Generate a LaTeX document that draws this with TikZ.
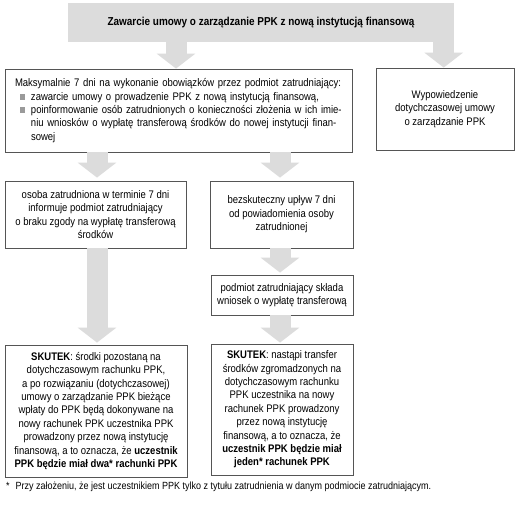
\documentclass[tikz,border=0pt]{standalone}
\usepackage{fontspec}
\setmainfont{Liberation Sans}[FakeStretch=0.865]
\usetikzlibrary{arrows.meta}
\definecolor{arrowgray}{HTML}{DCDCDC}
\definecolor{boxline}{HTML}{555555}
\definecolor{bulgray}{HTML}{9A9A9A}
\newcommand\mybul{\makebox[16pt][l]{\hspace{5pt}\textcolor{bulgray}{\rule[0.5pt]{5.5pt}{5.5pt}}}}
\newcommand\myind{\hspace*{16pt}}
\begin{document}
\begin{tikzpicture}[x=1pt,y=-1pt,font=\fontsize{11}{13.4}\selectfont,
  box/.style={draw=boxline,line width=0.8pt,inner sep=0pt,align=center,fill=white},
  blockarrow/.style={draw=arrowgray,line width=21pt,-{Triangle[length=15pt,width=38pt]}}]
\useasboundingbox (0,0) rectangle (519,505);
\fill[white] (0,0) rectangle (519,505);
% banner
\node[fill=arrowgray,minimum width=386pt,minimum height=39pt,inner sep=0pt,
  font=\bfseries\fontsize{11.5}{13}\selectfont] (banner) at (261,22.5)
  {Zawarcie umowy o zarządzanie PPK z nową instytucją finansową};
% boxes
\node[box,minimum width=347pt,minimum height=83pt,text width=327pt,align=left] (b1) at (178.5,110.5)
 {Maksymalnie 7 dni na wykonanie obowiązków przez podmiot zatrudniający:\\
  \mybul zawarcie umowy o prowadzenie PPK z nową instytucją finansową,\\
  \mybul poinformowanie osób zatrudnionych o konieczności złożenia w ich imie-\\
  \myind niu wniosków o wypłatę transferową środków do nowej instytucji finan-\\
  \myind sowej};
\node[box,minimum width=138pt,minimum height=82pt] (b2) at (445,109)
 {Wypowiedzenie\\dotychczasowej umowy\\o zarządzanie PPK};
\node[box,minimum width=181pt,minimum height=67pt] (b3) at (95.5,214.5)
 {osoba zatrudniona w terminie 7 dni\\informuje podmiot zatrudniający\\o braku zgody na wypłatę transferową\\środków};
\node[box,minimum width=143pt,minimum height=67pt] (b4) at (281.5,214.5)
 {bezskuteczny upływ 7 dni\\od powiadomienia osoby\\zatrudnionej};
\node[box,minimum width=142pt,minimum height=40pt] (b5) at (282,295)
 {podmiot zatrudniający składa\\wniosek o wypłatę transferową};
\node[box,minimum width=182pt,minimum height=132pt] (b6) at (96,411)
 {\textbf{SKUTEK}: środki pozostaną na\\dotychczasowym rachunku PPK,\\a po rozwiązaniu (dotychczasowej)\\umowy o zarządzanie PPK bieżące\\wpłaty do PPK będą dokonywane na\\nowy rachunek PPK uczestnika PPK\\prowadzony przez nową instytucję\\finansową, a to oznacza, że \textbf{uczestnik}\\\textbf{PPK będzie miał dwa* rachunki PPK}};
\node[box,minimum width=142pt,minimum height=131pt] (b7) at (282,409.5)
 {\textbf{SKUTEK}: nastąpi transfer\\środków zgromadzonych na\\dotychczasowym rachunku\\PPK uczestnika na nowy\\rachunek PPK prowadzony\\przez nową instytucję\\finansową, a to oznacza, że\\\textbf{uczestnik PPK będzie miał}\\\textbf{jeden* rachunek PPK}};
\node[anchor=base west,inner sep=0pt,font=\fontsize{10.4}{12}\selectfont] (fn) at (6,489)
 {*\hspace{6pt}Przy założeniu, że jest uczestnikiem PPK tylko z tytułu zatrudnienia w danym podmiocie zatrudniającym.};
% arrows
\draw[blockarrow] ([xshift=-10.5pt,yshift=1pt]banner.south east) -- ([xshift=-10.5pt]banner.south east |- b2.north);
\draw[blockarrow] ([xshift=-2.5pt,yshift=1pt]b1.north |- banner.south) -- ([xshift=-2.5pt]b1.north);
\draw[blockarrow] ([xshift=1.5pt]b3.north |- b1.south) -- ([xshift=1.5pt,yshift=3pt]b3.north);
\draw[blockarrow] ([xshift=-1.5pt]b4.north |- b1.south) -- ([xshift=-1.5pt,yshift=3pt]b4.north);
\draw[blockarrow] ([xshift=-2pt]b5.north |- b4.south) -- ([xshift=-2pt,yshift=2pt]b5.north);
\draw[blockarrow] ([xshift=1pt]b6.north |- b3.south) -- ([xshift=1pt,yshift=2pt]b6.north);
\draw[blockarrow] ([xshift=-2pt]b7.north |- b5.south) -- ([xshift=-2pt,yshift=1pt]b7.north);
\end{tikzpicture}
\end{document}
